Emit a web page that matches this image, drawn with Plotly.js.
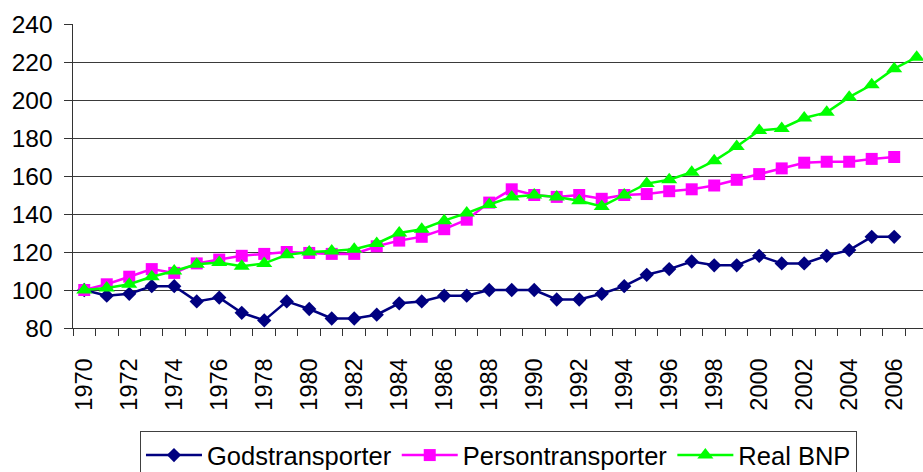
<!DOCTYPE html>
<html>
<head>
<meta charset="utf-8">
<script src="https://cdn.plot.ly/plotly-3.0.1.min.js"></script>
<style>
  html, body { margin: 0; padding: 0; background: #fff; overflow: hidden; }
  #wrap { width: 923px; height: 472px; overflow: hidden; }
  #chart { width: 923px; height: 495px; }
</style>
</head>
<body>
<div id="wrap"><div id="chart"></div></div>
<script>
const years = [1970,1971,1972,1973,1974,1975,1976,1977,1978,1979,1980,1981,1982,1983,1984,1985,1986,1987,1988,1989,1990,1991,1992,1993,1994,1995,1996,1997,1998,1999,2000,2001,2002,2003,2004,2005,2006,2007];
const godstransporter = [100,97,98,102,102,94,96,88,84,94,90,85,85,87,93,94,97,97,100,100,100,95,95,98,102,108,111,115,113,113,118,114,114,118,121,128,128,null];
const persontransporter = [100,103,107,111,109,114,116,118,119,120,119.5,119,119,123,126,128,132,137,146,153,150,149,150,148,150,150.5,152,153,155,158,161,164,167,167.5,167.5,169,170,null];
const realBNP = [100,101,103,107,110,113.5,114.5,112.5,114,118.5,120,120.5,121.5,124.5,130,132,136.5,140.5,145,149,150,149,147,144,150,156,158,162,168,175.5,184,185,190.5,193.5,201.5,208,216.5,222.5];
const seriesNames = ["Godstransporter", "Persontransporter", "Real BNP"];
const xTickYears = years.filter(y => y % 2 === 0);

const font = "Liberation Sans, Arial, sans-serif";

const traces = [
  {x: years, y: godstransporter, name: seriesNames[0], type: "scatter", mode: "lines+markers",
   line: {color: "#000080", width: 2.5}, marker: {symbol: "diamond", size: 11, color: "#000080"}, cliponaxis: false},
  {x: years, y: persontransporter, name: seriesNames[1], type: "scatter", mode: "lines+markers",
   line: {color: "#FF00FF", width: 2.5}, marker: {symbol: "square", size: 12, color: "#FF00FF"}, cliponaxis: false},
  {x: years, y: realBNP, name: seriesNames[2], type: "scatter", mode: "lines+markers",
   line: {color: "#00FF00", width: 2.5}, marker: {symbol: "triangle-up", size: 14, color: "#00FF00"}, cliponaxis: false}
];

const layout = {
  width: 923, height: 495,
  margin: {l: 73, r: 0, t: 24, b: 167, pad: 0},
  paper_bgcolor: "#fff", plot_bgcolor: "#fff",
  font: {family: font, size: 24, color: "#000"},
  showlegend: true,
  legend: {
    orientation: "h", x: 0.0788, xanchor: "left", y: -0.3388, yanchor: "top",
    font: {family: font, size: 25.5, color: "#000"},
    bordercolor: "#404040", borderwidth: 1, bgcolor: "#fff",
    itemwidth: 56, traceorder: "normal"
  },
  xaxis: {
    type: "linear",
    range: [1969.5, 2007.28],
    tickmode: "array", tickvals: xTickYears, ticktext: xTickYears.map(String),
    tickangle: -90,
    ticks: "", showgrid: false, zeroline: false,
    showline: true, linecolor: "#333", linewidth: 1,
    ticklabelstandoff: 20,
    tickfont: {family: font, size: 23.5, color: "#000"},
    minor: {tick0: 1969.5, dtick: 1, ticks: "outside", ticklen: 7, tickcolor: "#333", tickwidth: 1, showgrid: false}
  },
  yaxis: {
    range: [80, 240], dtick: 20, tick0: 80,
    ticks: "outside", ticklen: 8, tickcolor: "#333", tickwidth: 1,
    showline: true, linecolor: "#333", linewidth: 1.5,
    showgrid: true, gridcolor: "#3a3a3a", gridwidth: 1,
    zeroline: false,
    ticklabelstandoff: 6,
    tickfont: {family: font, size: 24.5, color: "#000"}
  }
};

Plotly.newPlot("chart", traces, layout, {displayModeBar: false, staticPlot: true});
</script>
</body>
</html>
